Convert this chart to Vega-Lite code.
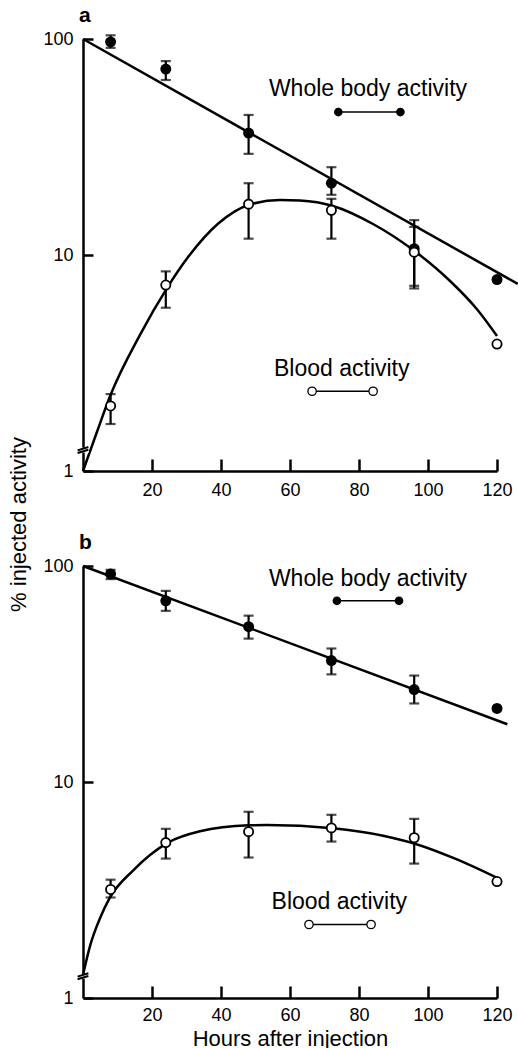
{
  "$schema": "https://vega.github.io/schema/vega-lite/v6.json",
  "padding": {"left": 7, "top": 5, "right": 0, "bottom": 0},
  "bounds": "flush",
  "spacing": 95,
  "config": {
    "font": "Liberation Sans",
    "view": {"stroke": null},
    "axis": {"domainColor": "black", "domainWidth": 2.5, "tickColor": "black", "tickWidth": 2.5, "labelColor": "black", "labelFontSize": 18, "grid": false, "titleColor": "black", "titleFontWeight": "normal", "titleFontSize": 22, "labelFlush": false},
    "title": {"fontSize": 21, "fontWeight": "bold", "anchor": "start", "frame": "group", "color": "black", "offset": 4, "dx": -4}
  },
  "datasets": {
    "pts": [
      {"panel": "a", "series": "whole", "hour": 8, "value": 97, "lo": 91, "hi": 104},
      {"panel": "a", "series": "whole", "hour": 24, "value": 72.6, "lo": 64.6, "hi": 79},
      {"panel": "a", "series": "whole", "hour": 48, "value": 36.7, "lo": 29.4, "hi": 44.5},
      {"panel": "a", "series": "whole", "hour": 72, "value": 21.5, "lo": 19, "hi": 25.5},
      {"panel": "a", "series": "whole", "hour": 96, "value": 10.7, "lo": 7.0, "hi": 14.5},
      {"panel": "a", "series": "whole", "hour": 120, "value": 7.7, "lo": null, "hi": null},
      {"panel": "a", "series": "blood", "hour": 8, "value": 2.0, "lo": 1.65, "hi": 2.27},
      {"panel": "a", "series": "blood", "hour": 24, "value": 7.26, "lo": 5.7, "hi": 8.4},
      {"panel": "a", "series": "blood", "hour": 48, "value": 17.2, "lo": 11.9, "hi": 21.5},
      {"panel": "a", "series": "blood", "hour": 72, "value": 16.1, "lo": 11.9, "hi": 18.2},
      {"panel": "a", "series": "blood", "hour": 96, "value": 10.3, "lo": 7.2, "hi": 13.5},
      {"panel": "a", "series": "blood", "hour": 120, "value": 3.87, "lo": null, "hi": null},
      {"panel": "b", "series": "whole", "hour": 8, "value": 91.8, "lo": 87, "hi": 96},
      {"panel": "b", "series": "whole", "hour": 24, "value": 69, "lo": 62, "hi": 76.7},
      {"panel": "b", "series": "whole", "hour": 48, "value": 52.4, "lo": 46.1, "hi": 58.9},
      {"panel": "b", "series": "whole", "hour": 72, "value": 36.5, "lo": 31.5, "hi": 41.5},
      {"panel": "b", "series": "whole", "hour": 96, "value": 26.8, "lo": 23.1, "hi": 31.1},
      {"panel": "b", "series": "whole", "hour": 120, "value": 21.9, "lo": null, "hi": null},
      {"panel": "b", "series": "blood", "hour": 8, "value": 3.18, "lo": 2.92, "hi": 3.53},
      {"panel": "b", "series": "blood", "hour": 24, "value": 5.24, "lo": 4.42, "hi": 6.07},
      {"panel": "b", "series": "blood", "hour": 48, "value": 5.89, "lo": 4.47, "hi": 7.28},
      {"panel": "b", "series": "blood", "hour": 72, "value": 6.13, "lo": 5.3, "hi": 7.05},
      {"panel": "b", "series": "blood", "hour": 96, "value": 5.52, "lo": 4.19, "hi": 6.75},
      {"panel": "b", "series": "blood", "hour": 120, "value": 3.46, "lo": null, "hi": null}
    ],
    "curves": [
      {"panel": "a", "series": "whole", "hour": 0, "value": 100},
      {"panel": "a", "series": "whole", "hour": 126, "value": 7.35},
      {"panel": "a", "series": "blood", "hour": 0, "value": 1},
      {"panel": "a", "series": "blood", "hour": 4.06, "value": 1.52},
      {"panel": "a", "series": "blood", "hour": 7.83, "value": 2.22},
      {"panel": "a", "series": "blood", "hour": 16.52, "value": 4.27},
      {"panel": "a", "series": "blood", "hour": 24.35, "value": 7.03},
      {"panel": "a", "series": "blood", "hour": 30.14, "value": 9.63},
      {"panel": "a", "series": "blood", "hour": 39.13, "value": 13.96},
      {"panel": "a", "series": "blood", "hour": 48.41, "value": 17.14},
      {"panel": "a", "series": "blood", "hour": 57.1, "value": 17.98},
      {"panel": "a", "series": "blood", "hour": 62.9, "value": 17.88},
      {"panel": "a", "series": "blood", "hour": 72.46, "value": 16.87},
      {"panel": "a", "series": "blood", "hour": 84.06, "value": 13.92},
      {"panel": "a", "series": "blood", "hour": 95.94, "value": 10.48},
      {"panel": "a", "series": "blood", "hour": 106.4, "value": 7.58},
      {"panel": "a", "series": "blood", "hour": 114.2, "value": 5.61},
      {"panel": "a", "series": "blood", "hour": 120, "value": 4.22},
      {"panel": "b", "series": "whole", "hour": 0, "value": 100},
      {"panel": "b", "series": "whole", "hour": 123, "value": 18.5},
      {"panel": "b", "series": "blood", "hour": 0, "value": 1.28},
      {"panel": "b", "series": "blood", "hour": 2.03, "value": 1.74},
      {"panel": "b", "series": "blood", "hour": 4.93, "value": 2.34},
      {"panel": "b", "series": "blood", "hour": 7.83, "value": 2.92},
      {"panel": "b", "series": "blood", "hour": 14.49, "value": 3.89},
      {"panel": "b", "series": "blood", "hour": 24.64, "value": 5.24},
      {"panel": "b", "series": "blood", "hour": 33.9, "value": 5.91},
      {"panel": "b", "series": "blood", "hour": 48.1, "value": 6.3},
      {"panel": "b", "series": "blood", "hour": 53.3, "value": 6.32},
      {"panel": "b", "series": "blood", "hour": 72.5, "value": 6.11},
      {"panel": "b", "series": "blood", "hour": 87, "value": 5.64},
      {"panel": "b", "series": "blood", "hour": 96.2, "value": 5.18},
      {"panel": "b", "series": "blood", "hour": 108.4, "value": 4.38},
      {"panel": "b", "series": "blood", "hour": 120, "value": 3.6}
    ],
    "keys": [
      {"panel": "a", "series": "whole", "hour": 74, "value": 45.9},
      {"panel": "a", "series": "whole", "hour": 92, "value": 45.9},
      {"panel": "a", "series": "blood", "hour": 66.4, "value": 2.34},
      {"panel": "a", "series": "blood", "hour": 84.1, "value": 2.34},
      {"panel": "b", "series": "whole", "hour": 73.6, "value": 69},
      {"panel": "b", "series": "whole", "hour": 91.6, "value": 69},
      {"panel": "b", "series": "blood", "hour": 65.5, "value": 2.19},
      {"panel": "b", "series": "blood", "hour": 83.5, "value": 2.19}
    ],
    "labels": [
      {"panel": "a", "text": "Whole body activity", "hour": 82.6, "value": 58.7},
      {"panel": "a", "text": "Blood activity", "hour": 75, "value": 2.97},
      {"panel": "b", "text": "Whole body activity", "hour": 82.6, "value": 87.1},
      {"panel": "b", "text": "Blood activity", "hour": 74.3, "value": 2.77}
    ],
    "breaks": [
      {"panel": "a", "hour": 0, "value": 1.25},
      {"panel": "b", "hour": 0, "value": 1.26}
    ]
  },
  "vconcat": [
    {
      "width": 414,
      "height": 432,
      "title": {"text": "a"},
      "layer": [
        {
          "data": {"name": "curves"},
          "transform": [{"filter": "datum.panel == 'a'"}],
          "mark": {"type": "line", "interpolate": "monotone", "color": "black", "strokeWidth": 2.5},
          "encoding": {
            "x": {"field": "hour", "type": "quantitative", "scale": {"domain": [0, 120], "nice": false}, "axis": {"values": [20, 40, 60, 80, 100, 120], "tickSize": -12, "labelPadding": 22, "title": null}},
            "y": {"field": "value", "type": "quantitative", "scale": {"type": "log", "domain": [1, 100], "nice": false}, "axis": {"values": [1, 10, 100], "tickSize": -10, "labelPadding": 20, "title": "% injected activity", "titleX": -53, "titleY": 485, "titleBaseline": "bottom"}},
            "detail": {"field": "series"},
            "order": {"field": "hour"}
          }
        },
        {
          "data": {"name": "pts"},
          "transform": [{"filter": "datum.panel == 'a' && datum.lo != null"}],
          "mark": {"type": "rule", "color": "black", "strokeWidth": 2.2},
          "encoding": {
            "x": {"field": "hour", "type": "quantitative"},
            "y": {"field": "lo", "type": "quantitative"},
            "y2": {"field": "hi"}
          }
        },
        {
          "data": {"name": "pts"},
          "transform": [{"filter": "datum.panel == 'a' && datum.lo != null"}, {"fold": ["lo", "hi"], "as": ["end", "cap"]}],
          "mark": {"type": "tick", "orient": "horizontal", "color": "black", "size": 10, "thickness": 2.2},
          "encoding": {
            "x": {"field": "hour", "type": "quantitative"},
            "y": {"field": "cap", "type": "quantitative"}
          }
        },
        {
          "data": {"name": "pts"},
          "transform": [{"filter": "datum.panel == 'a' && datum.series == 'whole'"}],
          "mark": {"type": "point", "shape": "circle", "filled": true, "color": "black", "size": 120, "opacity": 1},
          "encoding": {
            "x": {"field": "hour", "type": "quantitative"},
            "y": {"field": "value", "type": "quantitative"}
          }
        },
        {
          "data": {"name": "pts"},
          "transform": [{"filter": "datum.panel == 'a' && datum.series == 'blood'"}],
          "mark": {"type": "point", "shape": "circle", "filled": true, "fill": "white", "stroke": "black", "strokeWidth": 1.8, "size": 85, "opacity": 1},
          "encoding": {
            "x": {"field": "hour", "type": "quantitative"},
            "y": {"field": "value", "type": "quantitative"}
          }
        },
        {
          "data": {"name": "keys"},
          "transform": [{"filter": "datum.panel == 'a'"}],
          "mark": {"type": "line", "color": "black", "strokeWidth": 1.5},
          "encoding": {
            "x": {"field": "hour", "type": "quantitative"},
            "y": {"field": "value", "type": "quantitative"},
            "detail": {"field": "series"}
          }
        },
        {
          "data": {"name": "keys"},
          "transform": [{"filter": "datum.panel == 'a' && datum.series == 'whole'"}],
          "mark": {"type": "point", "shape": "circle", "filled": true, "color": "black", "size": 75, "opacity": 1},
          "encoding": {
            "x": {"field": "hour", "type": "quantitative"},
            "y": {"field": "value", "type": "quantitative"}
          }
        },
        {
          "data": {"name": "keys"},
          "transform": [{"filter": "datum.panel == 'a' && datum.series == 'blood'"}],
          "mark": {"type": "point", "shape": "circle", "filled": true, "fill": "white", "stroke": "black", "strokeWidth": 1.3, "size": 70, "opacity": 1},
          "encoding": {
            "x": {"field": "hour", "type": "quantitative"},
            "y": {"field": "value", "type": "quantitative"}
          }
        },
        {
          "data": {"name": "labels"},
          "transform": [{"filter": "datum.panel == 'a'"}],
          "mark": {"type": "text", "fontSize": 23, "color": "black", "align": "center", "baseline": "middle"},
          "encoding": {
            "x": {"field": "hour", "type": "quantitative"},
            "y": {"field": "value", "type": "quantitative"},
            "text": {"field": "text"}
          }
        },
        {
          "data": {"name": "breaks"},
          "transform": [{"filter": "datum.panel == 'a'"}],
          "mark": {"type": "point", "shape": "M-1,-0.4L1,-0.4L1,0.4L-1,0.4Z", "filled": true, "fill": "white", "strokeWidth": 0, "size": 144, "opacity": 1},
          "encoding": {
            "x": {"field": "hour", "type": "quantitative"},
            "y": {"field": "value", "type": "quantitative"}
          }
        },
        {
          "data": {"name": "breaks"},
          "transform": [{"filter": "datum.panel == 'a'"}],
          "mark": {"type": "point", "shape": "M-0.9,0.05L0.9,-0.5M-0.9,0.5L0.9,-0.05", "filled": false, "stroke": "black", "strokeWidth": 2, "size": 144, "opacity": 1},
          "encoding": {
            "x": {"field": "hour", "type": "quantitative"},
            "y": {"field": "value", "type": "quantitative"}
          }
        }
      ]
    },
    {
      "width": 414,
      "height": 432,
      "title": {"text": "b"},
      "layer": [
        {
          "data": {"name": "curves"},
          "transform": [{"filter": "datum.panel == 'b'"}],
          "mark": {"type": "line", "interpolate": "monotone", "color": "black", "strokeWidth": 2.5},
          "encoding": {
            "x": {"field": "hour", "type": "quantitative", "scale": {"domain": [0, 120], "nice": false}, "axis": {"values": [20, 40, 60, 80, 100, 120], "tickSize": -12, "labelPadding": 20, "title": "Hours after injection", "titlePadding": 4}},
            "y": {"field": "value", "type": "quantitative", "scale": {"type": "log", "domain": [1, 100], "nice": false}, "axis": {"values": [1, 10, 100], "tickSize": -10, "labelPadding": 20, "title": null}},
            "detail": {"field": "series"},
            "order": {"field": "hour"}
          }
        },
        {
          "data": {"name": "pts"},
          "transform": [{"filter": "datum.panel == 'b' && datum.lo != null"}],
          "mark": {"type": "rule", "color": "black", "strokeWidth": 2.2},
          "encoding": {
            "x": {"field": "hour", "type": "quantitative"},
            "y": {"field": "lo", "type": "quantitative"},
            "y2": {"field": "hi"}
          }
        },
        {
          "data": {"name": "pts"},
          "transform": [{"filter": "datum.panel == 'b' && datum.lo != null"}, {"fold": ["lo", "hi"], "as": ["end", "cap"]}],
          "mark": {"type": "tick", "orient": "horizontal", "color": "black", "size": 10, "thickness": 2.2},
          "encoding": {
            "x": {"field": "hour", "type": "quantitative"},
            "y": {"field": "cap", "type": "quantitative"}
          }
        },
        {
          "data": {"name": "pts"},
          "transform": [{"filter": "datum.panel == 'b' && datum.series == 'whole'"}],
          "mark": {"type": "point", "shape": "circle", "filled": true, "color": "black", "size": 120, "opacity": 1},
          "encoding": {
            "x": {"field": "hour", "type": "quantitative"},
            "y": {"field": "value", "type": "quantitative"}
          }
        },
        {
          "data": {"name": "pts"},
          "transform": [{"filter": "datum.panel == 'b' && datum.series == 'blood'"}],
          "mark": {"type": "point", "shape": "circle", "filled": true, "fill": "white", "stroke": "black", "strokeWidth": 1.8, "size": 85, "opacity": 1},
          "encoding": {
            "x": {"field": "hour", "type": "quantitative"},
            "y": {"field": "value", "type": "quantitative"}
          }
        },
        {
          "data": {"name": "keys"},
          "transform": [{"filter": "datum.panel == 'b'"}],
          "mark": {"type": "line", "color": "black", "strokeWidth": 1.5},
          "encoding": {
            "x": {"field": "hour", "type": "quantitative"},
            "y": {"field": "value", "type": "quantitative"},
            "detail": {"field": "series"}
          }
        },
        {
          "data": {"name": "keys"},
          "transform": [{"filter": "datum.panel == 'b' && datum.series == 'whole'"}],
          "mark": {"type": "point", "shape": "circle", "filled": true, "color": "black", "size": 75, "opacity": 1},
          "encoding": {
            "x": {"field": "hour", "type": "quantitative"},
            "y": {"field": "value", "type": "quantitative"}
          }
        },
        {
          "data": {"name": "keys"},
          "transform": [{"filter": "datum.panel == 'b' && datum.series == 'blood'"}],
          "mark": {"type": "point", "shape": "circle", "filled": true, "fill": "white", "stroke": "black", "strokeWidth": 1.3, "size": 70, "opacity": 1},
          "encoding": {
            "x": {"field": "hour", "type": "quantitative"},
            "y": {"field": "value", "type": "quantitative"}
          }
        },
        {
          "data": {"name": "labels"},
          "transform": [{"filter": "datum.panel == 'b'"}],
          "mark": {"type": "text", "fontSize": 23, "color": "black", "align": "center", "baseline": "middle"},
          "encoding": {
            "x": {"field": "hour", "type": "quantitative"},
            "y": {"field": "value", "type": "quantitative"},
            "text": {"field": "text"}
          }
        },
        {
          "data": {"name": "breaks"},
          "transform": [{"filter": "datum.panel == 'b'"}],
          "mark": {"type": "point", "shape": "M-1,-0.4L1,-0.4L1,0.4L-1,0.4Z", "filled": true, "fill": "white", "strokeWidth": 0, "size": 144, "opacity": 1},
          "encoding": {
            "x": {"field": "hour", "type": "quantitative"},
            "y": {"field": "value", "type": "quantitative"}
          }
        },
        {
          "data": {"name": "breaks"},
          "transform": [{"filter": "datum.panel == 'b'"}],
          "mark": {"type": "point", "shape": "M-0.9,0.05L0.9,-0.5M-0.9,0.5L0.9,-0.05", "filled": false, "stroke": "black", "strokeWidth": 2, "size": 144, "opacity": 1},
          "encoding": {
            "x": {"field": "hour", "type": "quantitative"},
            "y": {"field": "value", "type": "quantitative"}
          }
        }
      ]
    }
  ]
}
